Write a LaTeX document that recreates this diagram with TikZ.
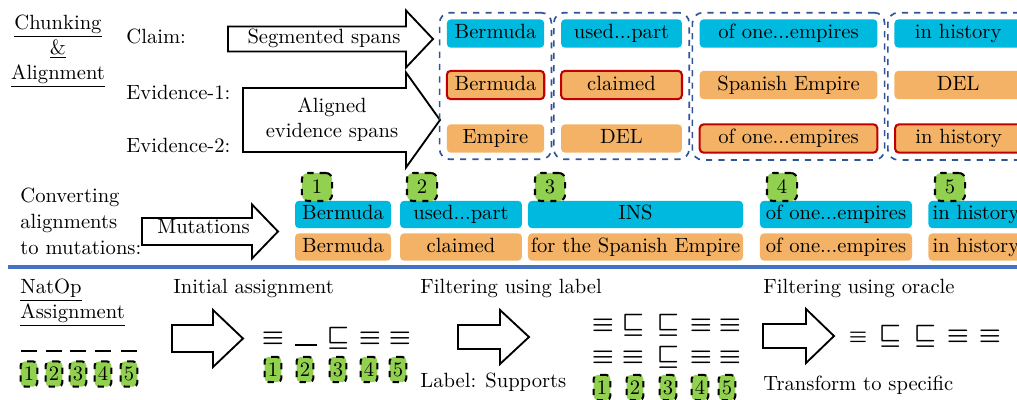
\documentclass[tikz,border=0pt]{standalone}
\usepackage{amssymb,amsmath}
\usetikzlibrary{fit}
\definecolor{claimcyan}{RGB}{0,185,222}
\definecolor{eviorange}{RGB}{243,178,101}
\definecolor{pickred}{RGB}{192,0,0}
\definecolor{chunkblue}{RGB}{47,85,151}
\definecolor{taggreen}{RGB}{146,208,80}
\definecolor{sepblue}{RGB}{68,114,196}
\newcommand{\lastcell}[1]{\makebox[61.8pt]{#1}\hspace{20pt}}
\tikzset{every node/.style={inner sep=0pt}}
\tikzset{
    claimbox/.style={rectangle, fill=claimcyan, rounded corners=2pt, text height=7pt, text depth=2pt, inner ysep=2.4pt, inner xsep=1pt},
    evibox/.style={claimbox, fill=eviorange},
    lastcol/.style={anchor=west, inner xsep=0pt},
    picked/.style={draw=pickred, line width=1pt},
    chunkgroup/.style={draw=chunkblue, dashed, line width=0.8pt, rounded corners=5pt, inner sep=3pt},
    mutbox/.style={claimbox, inner ysep=2.15pt},
    mutebox/.style={evibox, inner ysep=2.15pt},
    numtag/.style={draw, dashed, fill=taggreen, line width=1pt, rounded corners=3pt, minimum width=14.6pt, minimum height=13.6pt},
    smalltag/.style={numtag, minimum width=8.2pt, minimum height=12.2pt, rounded corners=2pt},
    fatarrow/.style={draw, fill=white, line width=0.9pt},
    natop/.style={anchor=base, font=\large\boldmath},
}

\begin{document}
\begin{tikzpicture}[x=0.4854pt, y=-0.4854pt]
    \useasboundingbox (0,0) rectangle (1017,399);
    \clip (0,0) rectangle (1017,399);

    % chunking and alignment
    \node (chunk) [anchor=north, align=center] at (58,14.7) {\underline{Chunking}\\\underline{\&}\\\underline{Alignment}};
    \node (claim) [anchor=base west] at (126,43) {Claim:};
    \node (ev1) [anchor=base west] at (126,99) {Evidence-1:};
    \node (ev2) [anchor=base west] at (126,152) {Evidence-2:};

    \draw[fatarrow] (228,26.5) -- (406,26.5) -- (406,10.5) -- (433,39) -- (406,67.5) -- (406,51.5) -- (228,51.5) -- cycle;
    \node (segtxt) [anchor=base] at (324,43) {Segmented spans};
    \draw[fatarrow] (243,88) -- (406,88) -- (406,72.5) -- (440,120) -- (406,167.5) -- (406,152) -- (243,152) -- cycle;
    \node (alitxt) [anchor=north, align=center] at (332,97.7) {Aligned\\evidence spans};

    \node (cl1) [claimbox, minimum width=47.3pt] at (495.5,33.5) {Bermuda};
    \node (cl2) [claimbox, minimum width=58.7pt] at (621.5,33.5) {used...part};
    \node (cl3) [claimbox, minimum width=86.3pt] at (788.5,33.5) {of one...empires};
    \node (cl4) [claimbox, lastcol] at (894,33.5) {\lastcell{in history}};

    \node (ea1) [evibox, picked, minimum width=47.3pt] at (495.5,85) {Bermuda};
    \node (ea2) [evibox, picked, minimum width=58.7pt] at (621.5,85) {claimed};
    \node (ea3) [evibox, minimum width=86.3pt] at (788.5,85) {Spanish Empire};
    \node (ea4) [evibox, lastcol] at (894,85) {\lastcell{DEL}};

    \node (eb1) [evibox, minimum width=47.3pt] at (495.5,138.5) {Empire};
    \node (eb2) [evibox, minimum width=58.7pt] at (621.5,138.5) {DEL};
    \node (eb3) [evibox, picked, minimum width=86.3pt] at (788.5,138.5) {of one...empires};
    \node (eb4) [evibox, picked, lastcol] at (894,138.5) {\lastcell{in history}};

    \node (g1) [chunkgroup, fit=(cl1)(ea1)(eb1)] {};
    \node (g2) [chunkgroup, fit=(cl2)(ea2)(eb2)] {};
    \node (g3) [chunkgroup, fit=(cl3)(ea3)(eb3)] {};
    \node (g4) [chunkgroup, fit=(cl4)(ea4)(eb4)] {};

    % alignments to mutations
    \node (conv) [anchor=north west, align=left] at (20,187.7) {Converting\\[0.6pt]alignments\\[0.6pt]to mutations:};
    \draw[fatarrow] (142,218) -- (252,218) -- (252,204.5) -- (278,231.5) -- (252,258.5) -- (252,245) -- (142,245) -- cycle;
    \node (muttxt) [anchor=base] at (203.5,233) {Mutations};

    \node (mc1) [mutbox, minimum width=46.6pt] at (343,214.5) {Bermuda};
    \node (mc2) [mutbox, minimum width=59.2pt] at (461,214.5) {used...part};
    \node (mc3) [mutbox, minimum width=104.4pt] at (635.5,214.5) {INS};
    \node (mc4) [mutbox, minimum width=73.8pt] at (836,214.5) {of one...empires};
    \node (mc5) [mutbox, anchor=west, inner xsep=2pt] at (928,214.5) {in history};

    \node (me1) [mutebox, minimum width=46.6pt] at (343,247) {Bermuda};
    \node (me2) [mutebox, minimum width=59.2pt] at (461,247) {claimed};
    \node (me3) [mutebox, minimum width=104.4pt] at (635.5,247) {for the Spanish Empire};
    \node (me4) [mutebox, minimum width=73.8pt] at (836,247) {of one...empires};
    \node (me5) [mutebox, anchor=west, inner xsep=2pt] at (928,247) {in history};

    \node (t1) [numtag] at (317,187) {1};
    \node (t2) [numtag] at (422,187) {2};
    \node (t3) [numtag] at (550,187) {3};
    \node (t4) [numtag] at (782,187) {4};
    \node (t5) [numtag] at (950,187) {5};

    \coordinate (sepL) at (8,267);
    \coordinate (sepR) at (1017,267);
    \draw[sepblue, line width=2.4pt] (sepL) -- (sepR);

    % natop assignment
    \node (natop) [anchor=north west, align=left] at (20,279) {\underline{NatOp}\\\underline{Assignment}};
    \node (n1) [natop] at (29,352) {\rule{7.8pt}{0.9pt}};
    \node (n2) [natop] at (54,352) {\rule{7.8pt}{0.9pt}};
    \node (n3) [natop] at (78,352) {\rule{7.8pt}{0.9pt}};
    \node (n4) [natop] at (103,352) {\rule{7.8pt}{0.9pt}};
    \node (n5) [natop] at (129,352) {\rule{7.8pt}{0.9pt}};
    \node (s1) [smalltag] at (29,374) {1};
    \node (s2) [smalltag] at (54,374) {2};
    \node (s3) [smalltag] at (78,374) {3};
    \node (s4) [smalltag] at (103,374) {4};
    \node (s5) [smalltag] at (129,374) {5};

    \node (init) [anchor=base west] at (173,293) {Initial assignment};
    \draw[fatarrow] (172,325) -- (213,325) -- (213,310) -- (243,338.5) -- (213,367) -- (213,352) -- (172,352) -- cycle;
    \node (i1) [natop] at (273,344) {$\equiv$};
    \node (i2) [natop] at (306,346) {\rule{10.7pt}{0.8pt}};
    \node (i3) [natop] at (338,344) {$\sqsubseteq$};
    \node (i4) [natop] at (370,344) {$\equiv$};
    \node (i5) [natop] at (400,344) {$\equiv$};
    \node (is1) [smalltag] at (273,369.5) {1};
    \node (is2) [smalltag] at (305,369.5) {2};
    \node (is3) [smalltag] at (338,369.5) {3};
    \node (is4) [smalltag] at (369,369.5) {4};
    \node (is5) [smalltag] at (398,369.5) {5};

    \node (flab) [anchor=base west] at (420,293) {Filtering using label};
    \draw[fatarrow] (458,325) -- (500,325) -- (500,310) -- (529,337) -- (500,364) -- (500,349) -- (458,349) -- cycle;
    \node (supp) [anchor=base west] at (420,387) {Label: Supports};
    \node (fa1) [natop] at (603,331) {$\equiv$};
    \node (fa2) [natop] at (633,331) {$\sqsubseteq$};
    \node (fa3) [natop] at (668,331) {$\sqsubseteq$};
    \node (fa4) [natop] at (701,331) {$\equiv$};
    \node (fa5) [natop] at (730,331) {$\equiv$};
    \node (fb1) [natop] at (603,363) {$\equiv$};
    \node (fb2) [natop] at (633,363) {$\equiv$};
    \node (fb3) [natop] at (668,363) {$\sqsubseteq$};
    \node (fb4) [natop] at (701,363) {$\equiv$};
    \node (fb5) [natop] at (730,363) {$\equiv$};
    \node (fs1) [smalltag] at (602,387.5) {1};
    \node (fs2) [smalltag] at (635,387.5) {2};
    \node (fs3) [smalltag] at (668,387.5) {3};
    \node (fs4) [smalltag] at (700,387.5) {4};
    \node (fs5) [smalltag] at (727,387.5) {5};

    \node (forc) [anchor=base west] at (763,293) {Filtering using oracle};
    \draw[fatarrow] (763,324) -- (806,324) -- (806,309) -- (834,336) -- (806,363) -- (806,348) -- (763,348) -- cycle;
    \node (o1) [natop, font=\normalsize\boldmath] at (858,342) {$\equiv$};
    \node (o2) [natop] at (890,342) {$\sqsubseteq$};
    \node (o3) [natop] at (925,342) {$\sqsubseteq$};
    \node (o4) [natop] at (958,342) {$\equiv$};
    \node (o5) [natop] at (990,342) {$\equiv$};
    \node (trans) [anchor=base west] at (763,390) {Transform to specific};
\end{tikzpicture}
\end{document}
